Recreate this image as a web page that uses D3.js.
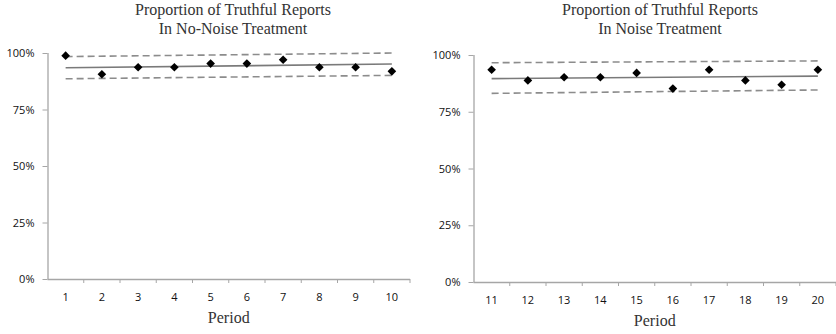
<!DOCTYPE html>
<html>
<head>
<meta charset="utf-8">
<script src="https://cdn.jsdelivr.net/npm/d3@7"></script>
<style>
  html, body { margin: 0; padding: 0; background: #fff; }
  svg { display: block; }
</style>
</head>
<body>
<svg id="chart" width="836" height="334"></svg>
<script>
// Periods shown on each panel
const periodsNoNoise = [1, 2, 3, 4, 5, 6, 7, 8, 9, 10];
const periodsNoise = [11, 12, 13, 14, 15, 16, 17, 18, 19, 20];

// Share of truthful reports per period (%)
const truthfulNoNoise = [98.8, 90.6, 93.7, 93.7, 95.3, 95.3, 97.0, 93.7, 93.7, 91.9];
const truthfulNoise = [93.5, 88.8, 90.2, 90.2, 92.1, 85.2, 93.5, 88.8, 86.9, 93.5];

// Fitted trend and confidence bounds, value at first and last period (%)
const trendNoNoise = [93.5, 95.1];
const upperNoNoise = [98.4, 100.0];
const lowerNoNoise = [88.6, 90.1];
const trendNoise = [89.6, 90.7];
const upperNoise = [96.6, 97.4];
const lowerNoise = [83.1, 84.6];

// Axis ticks
const yTicks = [0, 25, 50, 75, 100];

const titlesNoNoise = ["Proportion of  Truthful Reports", "In No-Noise Treatment"];
const titlesNoise = ["Proportion of  Truthful Reports", "In Noise Treatment"];
const xTitle = "Period";

const svg = d3.select("#chart");
const serif = "'Liberation Serif', 'DejaVu Serif', serif";
const sans = "'Open Sans', 'Liberation Sans', Arial, sans-serif";
const axisGray = "#a6a6a6";

function panel(cfg) {
  const g = svg.append("g");
  const x = d3.scaleBand().domain(cfg.periods).range([cfg.left, cfg.right]);
  const y = d3.scaleLinear().domain([0, 100]).range([cfg.bottom, cfg.top]);
  const cx = p => x(p) + x.bandwidth() / 2;

  // Y axis
  const yAxis = g.append("g")
    .attr("transform", `translate(${cfg.left},0)`)
    .call(d3.axisLeft(y).tickValues(yTicks).tickFormat(d => d + "%").tickSize(5).tickPadding(8));
  // X axis
  const xAxis = g.append("g")
    .attr("transform", `translate(0,${cfg.bottom})`)
    .call(d3.axisBottom(x).tickSize(0).tickPadding(14));
  // boundary ticks between periods
  const bounds = cfg.periods.map(p => x(p) + x.bandwidth());
  g.selectAll(".btick").data(bounds).enter().append("line")
    .attr("x1", d => d).attr("x2", d => d)
    .attr("y1", cfg.bottom).attr("y2", cfg.bottom + 4)
    .attr("stroke", axisGray).attr("stroke-width", 1);

  [yAxis, xAxis].forEach(a => {
    a.select(".domain").attr("stroke", axisGray).attr("stroke-width", 1.3);
    a.selectAll(".tick line").attr("stroke", axisGray).attr("stroke-width", 1);
    a.selectAll(".tick text").attr("fill", "#111").style("font-family", sans).style("font-size", "11px");
  });
  // y axis domain without outer-tick overhang
  yAxis.select(".domain").attr("d", `M0.5,${cfg.top}V${cfg.bottom}`);
  xAxis.select(".domain").attr("d", `M${cfg.left},0.5H${cfg.right}`);

  const first = cfg.periods[0], last = cfg.periods[cfg.periods.length - 1];
  const seg = (vals) => d3.line().x(d => cx(d[0])).y(d => y(d[1]))([[first, vals[0]], [last, vals[1]]]);

  g.append("path").attr("d", seg(cfg.upper)).attr("fill", "none")
    .attr("stroke", "#8c8c8c").attr("stroke-width", 1.6).attr("stroke-dasharray", "7,4");
  g.append("path").attr("d", seg(cfg.lower)).attr("fill", "none")
    .attr("stroke", "#8c8c8c").attr("stroke-width", 1.6).attr("stroke-dasharray", "7,4");
  g.append("path").attr("d", seg(cfg.trend)).attr("fill", "none")
    .attr("stroke", "#7a7a7a").attr("stroke-width", 1.6);

  const diamond = d3.symbol().type(d3.symbolDiamond2).size(48);
  g.selectAll(".pt").data(cfg.values).enter().append("path")
    .attr("d", diamond)
    .attr("transform", (d, i) => `translate(${cx(cfg.periods[i])},${y(d)})`)
    .attr("fill", "#000");

  // Titles
  const tc = cfg.titleX;
  g.append("text").attr("x", tc).attr("y", 15).attr("text-anchor", "middle")
    .style("font-family", serif).style("font-size", "16px").attr("fill", "#333").text(cfg.titles[0]);
  g.append("text").attr("x", tc).attr("y", 34).attr("text-anchor", "middle")
    .style("font-family", serif).style("font-size", "16px").attr("fill", "#333").text(cfg.titles[1]);
  g.append("text").attr("x", (cfg.left + cfg.right) / 2).attr("y", cfg.bottom + 44).attr("text-anchor", "middle")
    .style("font-family", serif).style("font-size", "16px").attr("fill", "#333").text(xTitle);
}

panel({
  periods: periodsNoNoise, values: truthfulNoNoise,
  trend: trendNoNoise, upper: upperNoNoise, lower: lowerNoNoise,
  left: 47.5, right: 410, top: 53, bottom: 279,
  titles: titlesNoNoise, titleX: 233
});
panel({
  periods: periodsNoise, values: truthfulNoise,
  trend: trendNoise, upper: upperNoise, lower: lowerNoise,
  left: 473.5, right: 836, top: 55, bottom: 282,
  titles: titlesNoise, titleX: 660
});
</script>
</body>
</html>
